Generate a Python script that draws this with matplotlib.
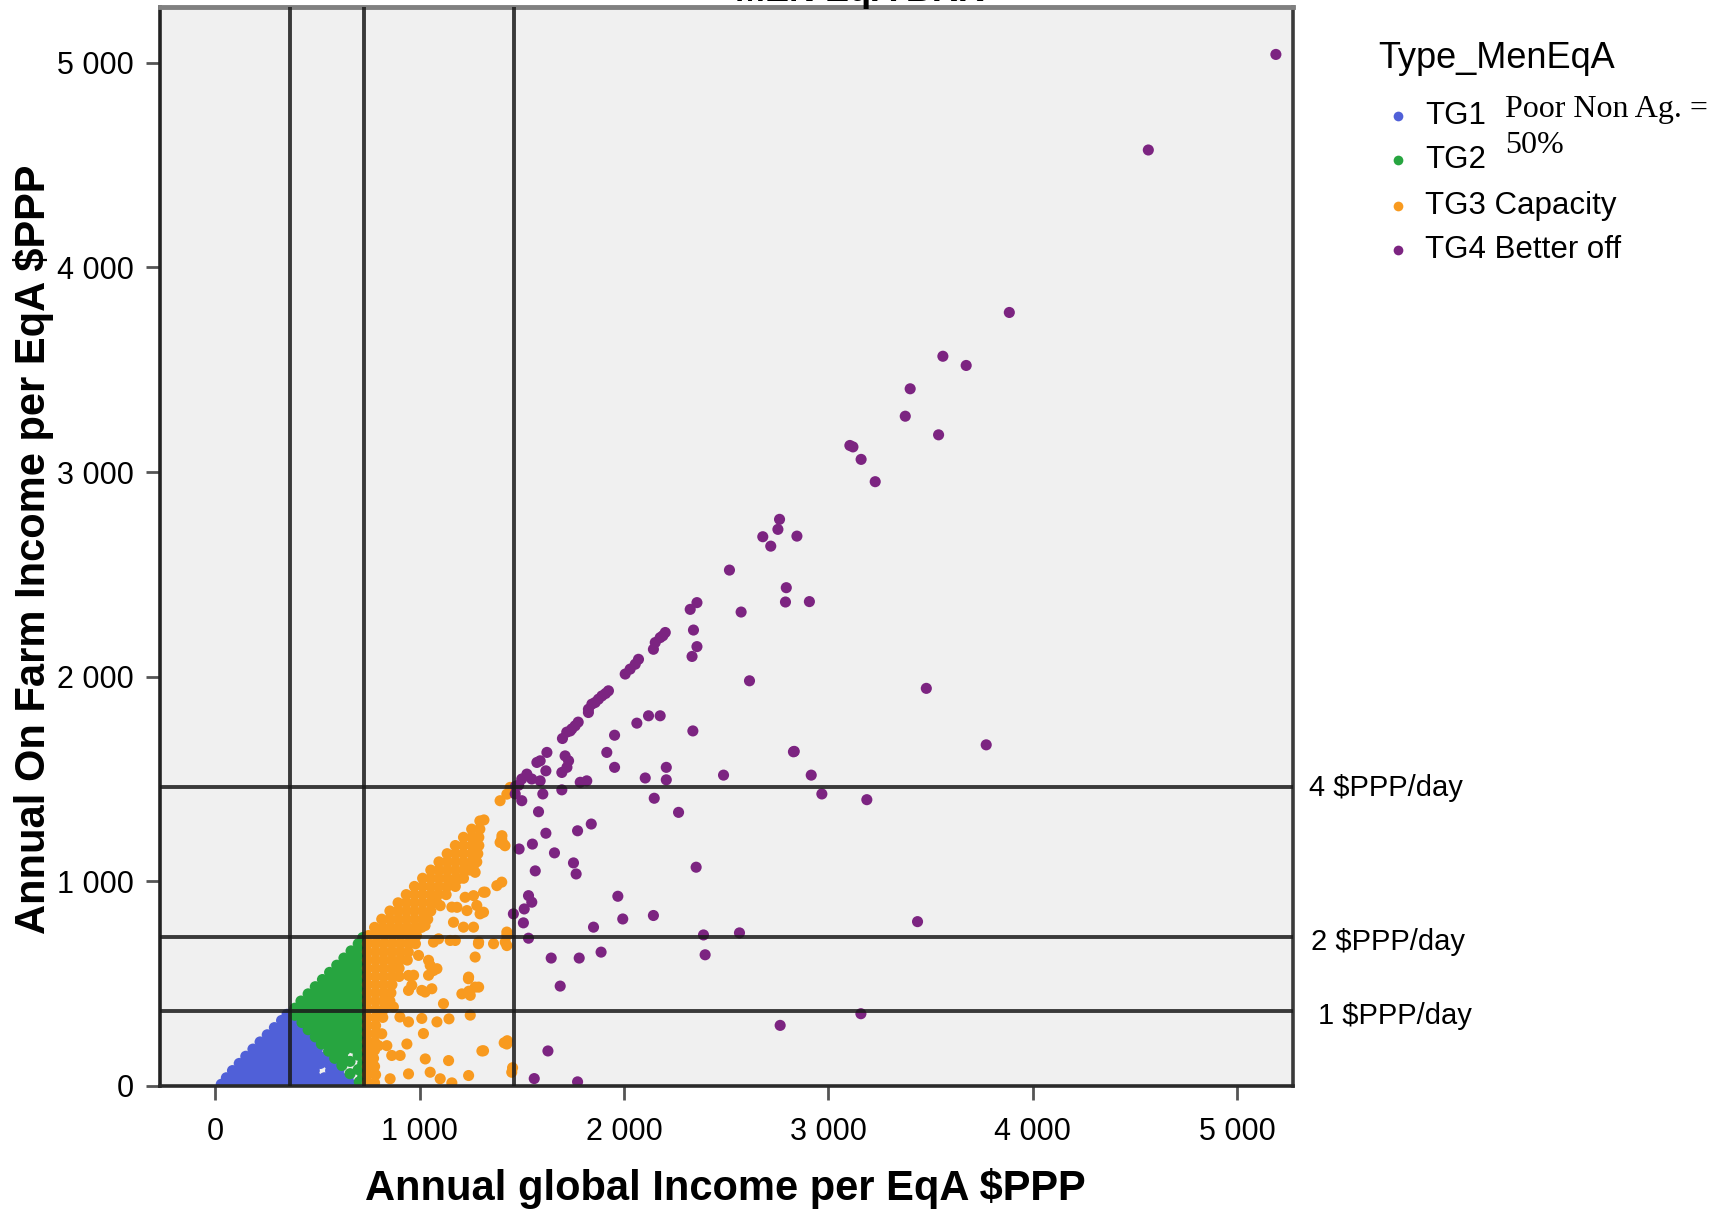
import matplotlib
matplotlib.use('Agg')
import matplotlib.pyplot as plt
from matplotlib.lines import Line2D
from matplotlib.transforms import offset_copy

plt.rcParams['font.family'] = ['Liberation Sans', 'DejaVu Sans']

# ---------------- data ----------------
x_ticks = [0, 1000, 2000, 3000, 4000, 5000]
y_ticks = [0, 1000, 2000, 3000, 4000, 5000]
tick_labels = ['0', '1 000', '2 000', '3 000', '4 000', '5 000']
thresholds = [365, 730, 1460]
threshold_labels = ['1 $PPP/day', '2 $PPP/day', '4 $PPP/day']
categories = ['TG1', 'TG2', 'TG3 Capacity', 'TG4 Better off']
colors = ['#5060d8', '#27a540', '#f89a1f', '#7c2481']

tg1 = [
    (30, 8), (70, 8), (110, 8), (150, 8), (190, 8), (230, 8), (270, 8), (310, 8), (350, 8), (390, 8),
    (430, 8), (470, 8), (510, 8), (550, 8), (590, 8), (630, 8), (665, 8),
    (55, 40), (95, 40), (135, 40), (175, 40), (215, 40), (255, 40), (295, 40), (335, 40), (375, 40),
    (415, 40), (455, 40), (495, 40), (535, 40), (575, 40), (615, 40), (650, 40),
    (85, 75), (125, 75), (165, 75), (205, 75), (245, 75), (285, 75), (325, 75), (365, 75), (405, 75),
    (445, 75), (485, 75), (565, 75), (605, 75),
    (118, 110), (155, 110), (195, 110), (235, 110), (275, 110), (315, 110), (355, 110), (395, 110),
    (435, 110), (475, 110), (515, 110), (555, 110), (590, 110),
    (150, 145), (190, 145), (230, 145), (270, 145), (310, 145), (350, 145), (390, 145), (430, 145),
    (470, 145), (510, 145), (545, 145),
    (185, 180), (220, 180), (260, 180), (300, 180), (340, 180), (380, 180), (420, 180), (460, 180), (500, 180),
    (220, 215), (255, 215), (295, 215), (335, 215), (375, 215), (415, 215), (455, 215), (485, 215),
    (255, 250), (290, 250), (330, 250), (370, 250), (410, 250), (445, 250),
    (290, 285), (325, 285), (365, 285), (400, 285), (425, 285),
    (325, 320), (360, 320), (395, 320),
    (352, 350), (372, 352),
]

tg2 = [
    (705, 20), (722, 45), (660, 60), (700, 80),
    (620, 100), (660, 120), (722, 110),
    (585, 135), (625, 140), (700, 150),
    (555, 170), (595, 170), (635, 175), (675, 185), (715, 175),
    (520, 205), (560, 205), (600, 205), (640, 210), (680, 215), (720, 210),
    (490, 240), (530, 240), (570, 240), (610, 240), (650, 245), (690, 240), (722, 245),
    (455, 275), (495, 275), (535, 275), (575, 275), (615, 275), (655, 275), (695, 275), (722, 280),
    (425, 310), (465, 310), (505, 310), (545, 310), (585, 310), (625, 310), (665, 310), (705, 310),
    (390, 345), (430, 345), (470, 345), (510, 345), (550, 345), (590, 345), (630, 345), (670, 345), (710, 345),
    (390, 380), (425, 380), (465, 380), (505, 380), (545, 380), (585, 380), (625, 380), (665, 380), (705, 380),
    (420, 415), (460, 415), (500, 415), (540, 415), (580, 415), (620, 415), (660, 415), (700, 415), (722, 430),
    (455, 450), (490, 450), (530, 450), (570, 450), (610, 450), (650, 450), (690, 450),
    (490, 485), (525, 485), (565, 485), (605, 485), (645, 485), (685, 485), (722, 480),
    (525, 520), (560, 520), (600, 520), (640, 520), (680, 520), (720, 520),
    (560, 555), (595, 555), (635, 555), (675, 555), (715, 555),
    (595, 590), (630, 590), (670, 590), (710, 590),
    (630, 625), (665, 625), (700, 625), (722, 630),
    (665, 660), (700, 660), (722, 665),
    (700, 695), (722, 700), (722, 725),
]

tg3 = [
    (745, 15), (780, 15), (745, 55), (785, 55), (745, 95), (780, 95), (745, 135), (775, 135),
    (745, 175), (780, 175), (745, 215), (780, 215), (745, 255), (785, 255), (815, 255),
    (745, 295), (785, 295), (745, 335), (785, 335), (820, 335),
    (745, 375), (785, 375), (825, 375), (745, 415), (785, 415), (825, 415), (855, 415),
    (745, 455), (785, 455), (825, 455), (860, 455), (745, 495), (785, 495), (825, 495), (865, 495),
    (745, 535), (785, 535), (825, 535), (865, 535), (900, 535),
    (745, 575), (785, 575), (825, 575), (865, 575), (900, 575),
    (745, 615), (785, 615), (825, 615), (865, 615), (905, 615), (940, 615),
    (745, 655), (785, 655), (825, 655), (865, 655), (905, 655), (945, 655),
    (745, 695), (785, 695), (825, 695), (865, 695), (905, 695), (945, 695), (980, 695),
    (750, 735), (790, 735), (830, 735), (870, 735), (910, 735), (950, 735), (985, 735),
    (780, 775), (820, 775), (860, 775), (900, 775), (940, 775), (980, 775), (1010, 775),
    (815, 815), (855, 815), (895, 815), (935, 815), (975, 815), (1015, 815), (1040, 815),
    (855, 855), (895, 855), (935, 855), (975, 855), (1015, 855), (1055, 855),
    (895, 895), (935, 895), (975, 895), (1015, 895), (1055, 895), (1085, 895),
    (935, 935), (975, 935), (1015, 935), (1055, 935), (1090, 935), (1130, 935),
    (975, 975), (1015, 975), (1055, 975), (1095, 975), (1135, 975), (1175, 975),
    (1015, 1015), (1055, 1015), (1095, 1015), (1135, 1015), (1175, 1015), (1215, 1015),
    (1055, 1055), (1095, 1055), (1135, 1055), (1175, 1055), (1215, 1055), (1245, 1055),
    (1095, 1095), (1135, 1095), (1175, 1095), (1215, 1095), (1255, 1095), (1280, 1095),
    (1135, 1135), (1175, 1135), (1215, 1135), (1255, 1135), (1285, 1135),
    (1175, 1175), (1215, 1175), (1255, 1175), (1290, 1175),
    (1215, 1215), (1255, 1215), (1290, 1215), (1255, 1255), (1295, 1255), (1295, 1295), (1315, 1300),
    # scattered
    (1394, 1394), (1427, 1426), (1443, 1459), (1402, 1207), (1418, 1174), (1394, 1190), (1403, 1223),
    (1410, 1183), (1264, 930), (1313, 947), (1378, 979), (1402, 996), (1280, 882), (1313, 849),
    (1183, 873), (1232, 857), (1264, 776), (1289, 703), (1362, 695), (1419, 703), (1427, 735),
    (1175, 711), (1093, 719), (1272, 630), (1044, 614), (1085, 573), (1044, 541), (971, 541),
    (1240, 532), (1289, 483), (1248, 443), (946, 467), (1011, 467), (1060, 475), (1117, 402),
    (872, 386), (904, 337), (946, 313), (1011, 330), (1085, 313), (1019, 256), (1248, 346),
    (799, 197), (840, 197), (864, 149), (905, 149), (938, 205), (1313, 172), (1427, 205),
    (1028, 132), (1142, 124), (946, 59), (1052, 67), (1101, 35), (856, 35), (1158, 15),
    (1240, 51), (1451, 67), (1272, 1158), (1264, 1077), (1272, 1044), (1190, 1012), (1150, 1003),
    (1321, 947), (1223, 922), (1158, 874), (1296, 841), (1166, 800), (1215, 776), (1101, 881),
    (1027, 784), (1068, 703), (1150, 711), (1288, 695), (1427, 686), (1427, 752), (995, 638),
    (1052, 589), (1068, 564), (946, 540), (1239, 524), (1272, 483), (1207, 450), (962, 492),
    (1027, 459), (1414, 211), (1305, 171), (1455, 89), (1429, 221), (1144, 328), (1241, 463),
]

tg4 = [
    (5189, 5041), (4565, 4574), (3885, 3780), (3560, 3566), (3674, 3521), (3400, 3407),
    (3376, 3273), (3539, 3182), (3120, 3123), (3105, 3130), (3160, 3062), (3229, 2953),
    (2761, 2769), (2753, 2720), (2679, 2684), (2846, 2687), (2718, 2638), (2516, 2521),
    (2794, 2435), (2790, 2365), (2907, 2367), (2573, 2316), (2614, 1980), (3479, 1943),
    (2357, 2362), (2324, 2329), (2340, 2228), (2357, 2147), (2333, 2099),
    (2202, 2216), (2190, 2200), (2177, 2191), (2153, 2167), (2144, 2134), (2071, 2085),
    (2055, 2061), (2030, 2037), (2006, 2013), (1924, 1931), (1910, 1918), (1892, 1906),
    (1875, 1890), (1859, 1874), (1843, 1866), (1826, 1841), (1826, 1825), (1776, 1778),
    (1761, 1760), (1745, 1745), (1737, 1735), (1720, 1729), (1699, 1698), (1623, 1630),
    (1590, 1589), (1574, 1581), (1525, 1524), (1500, 1500), (1549, 1500), (1590, 1491),
    (1470, 1465), (1485, 1470),
    (2063, 1773), (2120, 1809), (2177, 1809), (2337, 1735), (2833, 1635), (1954, 1714),
    (1916, 1630), (1954, 1557), (1618, 1540), (1712, 1613), (1729, 1589), (1696, 1532),
    (1721, 1557), (1786, 1484), (1818, 1491), (2104, 1505), (2207, 1557), (2207, 1496),
    (2487, 1519), (1696, 1447), (1603, 1427), (1500, 1394), (1468, 1427), (2148, 1406),
    (2267, 1337), (1582, 1340), (1840, 1280), (1773, 1247), (1618, 1235), (1552, 1182),
    (1487, 1158), (1660, 1139), (1753, 1090), (1766, 1036), (1566, 1051), (2353, 1069),
    (1970, 927), (1533, 930), (1549, 898), (1512, 865), (1459, 841), (1508, 797),
    (1851, 776), (1994, 816), (2144, 833), (2389, 738), (2565, 748), (1533, 722),
    (2397, 641), (1644, 625), (1781, 625), (1888, 654), (1688, 488),
    (2829, 1633), (2916, 1519), (2968, 1427), (3188, 1399), (3772, 1667), (3436, 803),
    (3159, 353), (2764, 296), (1628, 171), (1561, 36), (1773, 20),
]

groups = [tg1, tg2, tg3, tg4]

# ---------------- figure ----------------
fig = plt.figure(figsize=(17.29, 12.12), dpi=100)
ax = fig.add_axes([0.0925, 0.104, 0.6556, 0.8906])
ax.set_facecolor('#f0f0f0')

for pts, c in zip(groups, colors):
    xs = [p[0] for p in pts]
    ys = [p[1] for p in pts]
    ax.scatter(xs, ys, s=64, c=c, edgecolors='none', zorder=2)

for t in thresholds:
    ax.axvline(t, color='#1a1a1a', lw=2.8, alpha=0.85, zorder=3)
    ax.axhline(t, color='#1a1a1a', lw=2.8, alpha=0.85, zorder=3)

ax.set_xlim(-270, 5275)
ax.set_ylim(0, 5275)
ax.set_xticks(x_ticks)
ax.set_xticklabels(tick_labels)
ax.set_yticks(y_ticks)
ax.set_yticklabels(tick_labels)
ax.tick_params(axis='both', direction='out', length=10, width=2, color='#555555',
               labelsize=22, labelcolor='black')
ax.tick_params(axis='x', pad=12)
ax.tick_params(axis='y', pad=9)

ax.spines['top'].set_color('#808080')
ax.spines['top'].set_linewidth(3.5)
ax.spines['left'].set_color('#222222')
ax.spines['left'].set_linewidth(2.6)
ax.spines['right'].set_color('#3a3a3a')
ax.spines['right'].set_linewidth(2.6)
ax.spines['bottom'].set_color('#2a2a2a')
ax.spines['bottom'].set_linewidth(2.6)

# threshold annotations (small downward pixel offsets as in the reference)
label_x = [1.0216, 1.0155, 1.0137]
label_dy = [-5, -5, -1]
for t, lab, lx, dy in zip(thresholds, threshold_labels, label_x, label_dy):
    tr = offset_copy(ax.get_yaxis_transform(), fig=fig, x=0, y=dy, units='dots')
    ax.text(lx, t, lab.replace('$', r'\$'), transform=tr,
            fontsize=21, va='center', ha='left', color='black')

# axis labels
fig.text(0.4193, 0.0192, r'Annual global Income per EqA \$PPP', fontsize=30,
         fontweight='bold', ha='center', va='center')
fig.text(0.0191, 0.547, r'Annual On Farm Income per EqA \$PPP', fontsize=30,
         fontweight='bold', ha='center', va='center', rotation=90)

# title, cut off by the top edge as in the reference (only letter bottoms show)
fig.text(0.497, 0.9994, 'MEN EqA BRK', fontsize=26, fontweight='bold',
         ha='center', va='baseline')

# legend (manual)
fig.text(0.797, 0.9518, 'Type_MenEqA', fontsize=26, ha='left', va='center')
leg_y = [0.9045, 0.8681, 0.8299, 0.7936]
for cat, c, ly in zip(categories, colors, leg_y):
    fig.add_artist(Line2D([0.8086], [ly], marker='o', markersize=7, color=c,
                          markeredgecolor='none', linestyle='none',
                          transform=fig.transFigure))
    fig.text(0.8242, ly, cat, fontsize=22.5, ha='left', va='center')

fig.text(0.8704, 0.9099, 'Poor Non Ag. =', fontsize=23, family='Liberation Serif',
         ha='left', va='center')
fig.text(0.8704, 0.8802, '50%', fontsize=23, family='Liberation Serif',
         ha='left', va='center')

fig.savefig('out.png', dpi=100, facecolor='white')
